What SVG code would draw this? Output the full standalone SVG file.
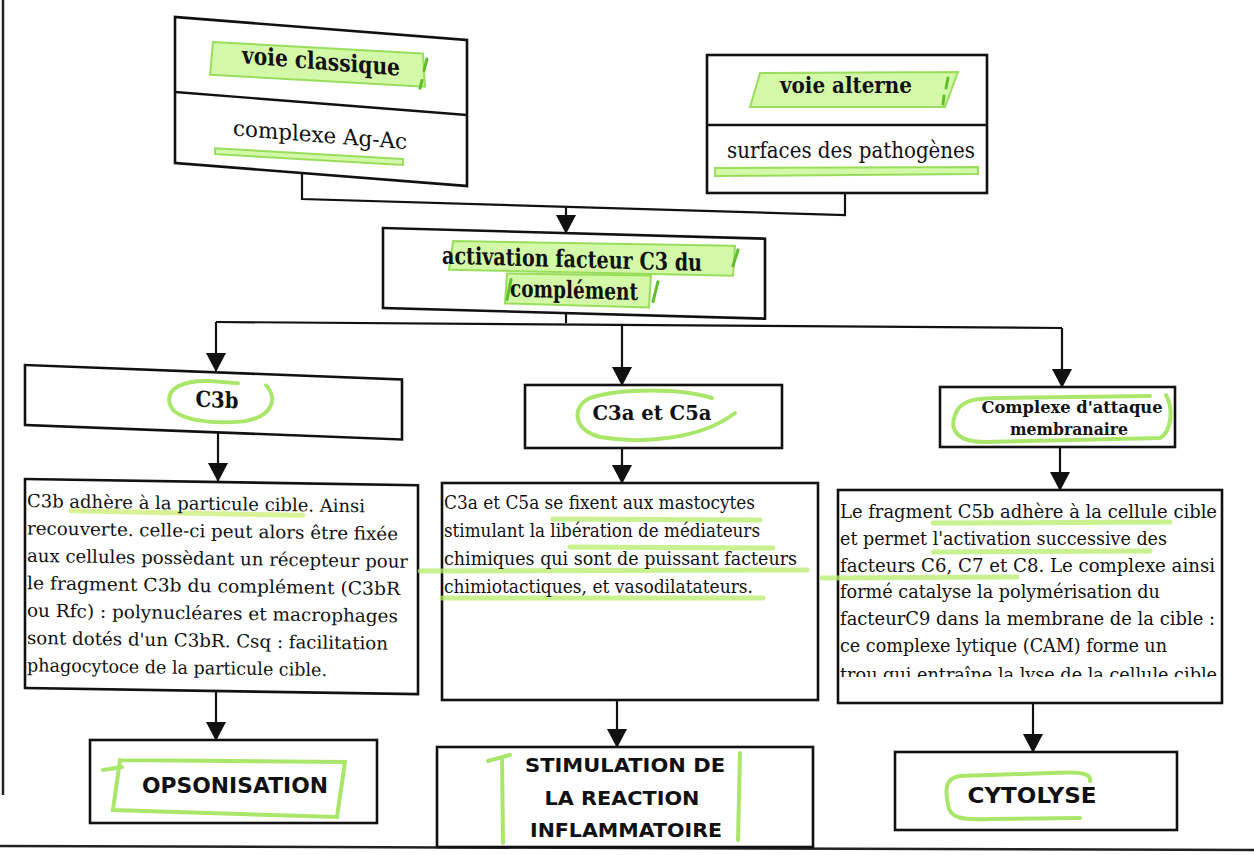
<svg xmlns="http://www.w3.org/2000/svg" width="1254" height="855" viewBox="0 0 1254 855">
  <style>
    .box { fill: #ffffff; stroke: #111111; stroke-width: 2.6; }
    .div { stroke: #111111; stroke-width: 2.4; }
    .line { fill: none; stroke: #111111; stroke-width: 2.2; }
    .arrow { fill: none; stroke: #111111; stroke-width: 2.2; marker-end: url(#head); }
    .hl { fill: #c4f58a; fill-opacity: 0.75; stroke: #86d640; stroke-width: 2; stroke-opacity: 0.8; }
    .tick { fill: none; stroke: #5fbf2a; stroke-width: 3; stroke-linecap: round; }
    .loop { fill: none; stroke: #9be24f; stroke-width: 4; stroke-opacity: 0.85; stroke-linecap: round; }
    .ul { stroke: #cdf07a; stroke-width: 5; stroke-linecap: round; stroke-opacity: 0.8; }
    .ulg { stroke: #b6ec6a; stroke-width: 5; stroke-linecap: round; stroke-opacity: 0.75; }
    .slab { font-family: "DejaVu Serif", "Liberation Serif", serif; font-weight: bold; fill: #111111; text-anchor: middle; }
    .plain { font-family: "DejaVu Serif", "Liberation Serif", serif; fill: #111111; text-anchor: middle; }
    .body { font-family: "DejaVu Serif Condensed", "DejaVu Serif", "Liberation Serif", serif; font-size: 18px; fill: #111111; }
    .caps { font-family: "DejaVu Sans", "Liberation Sans", sans-serif; font-weight: bold; fill: #111111; text-anchor: middle; }
    .page { stroke: #222222; stroke-width: 2.5; }
  </style>
  <defs>
    <marker id="head" markerUnits="userSpaceOnUse" viewBox="0 -11 20 22" refX="19" refY="0" markerWidth="20" markerHeight="22" orient="auto">
      <path d="M0,-10 L19,0 L0,10 Z" fill="#111111"/>
    </marker>
    <clipPath id="clipCam">
      <rect x="838" y="490" width="384" height="187"/>
    </clipPath>
  </defs>

  <rect width="1254" height="855" fill="#ffffff"/>

  <!-- page edges -->
  <line class="page" x1="3" y1="0" x2="3" y2="795"/>
  <line class="page" x1="0" y1="846" x2="1254" y2="850"/>

  <!-- connectors -->
  <g id="connectors">
    <polyline class="line" points="302,173 302,199 845,215 845,193"/>
    <line class="arrow" x1="566" y1="207" x2="566" y2="234"/>
    <line class="line" x1="566" y1="313" x2="566" y2="323"/>
    <line class="line" x1="216" y1="322" x2="1062" y2="328"/>
    <line class="arrow" x1="216" y1="322" x2="216" y2="372"/>
    <line class="arrow" x1="622" y1="325" x2="622" y2="386"/>
    <line class="arrow" x1="1062" y1="328" x2="1062" y2="388"/>
    <line class="arrow" x1="218" y1="432" x2="218" y2="482"/>
    <line class="arrow" x1="622" y1="448" x2="622" y2="484"/>
    <line class="arrow" x1="1060" y1="447" x2="1060" y2="491"/>
    <line class="arrow" x1="216" y1="691" x2="216" y2="741"/>
    <line class="arrow" x1="617" y1="700" x2="617" y2="748"/>
    <line class="arrow" x1="1033" y1="704" x2="1033" y2="753"/>
  </g>

  <!-- classical pathway -->
  <g id="voie-classique" transform="translate(175,17) skewY(4.5)">
    <rect class="box" x="0" y="0" width="292" height="146"/>
    <line class="div" x1="0" y1="75" x2="292" y2="75"/>
    <path class="hl" d="M38,22 L248,17 L250,50 L35,55 Z"/>
    <path class="tick" d="M252,22 L249,34 M247,44 L245,52"/>
    <text class="slab" x="146" y="41" font-size="24" textLength="158" lengthAdjust="spacingAndGlyphs">voie classique</text>
    <text class="plain" x="145" y="114" font-size="22" textLength="174" lengthAdjust="spacingAndGlyphs">complexe Ag-Ac</text>
    <path class="hl" d="M40,128 L228,124 L228,130 L40,134 Z"/>
  </g>

  <!-- alternative pathway -->
  <g id="voie-alterne">
    <rect class="box" x="707" y="55" width="280" height="138"/>
    <line class="div" x1="707" y1="125" x2="987" y2="125"/>
    <path class="hl" d="M760,73 L958,72 L945,107 L750,107 Z"/>
    <path class="tick" d="M948,78 L946,88 M944,96 L943,104"/>
    <text class="slab" x="846" y="93" font-size="22" textLength="132" lengthAdjust="spacingAndGlyphs">voie alterne</text>
    <text class="plain" x="851" y="158" font-size="22" textLength="248" lengthAdjust="spacingAndGlyphs">surfaces des pathogènes</text>
    <path class="hl" d="M715,168 L978,167 L978,174 L715,176 Z"/>
  </g>

  <!-- C3 activation -->
  <g id="activation-c3" transform="translate(383,228) skewY(1.6)">
    <rect class="box" x="0" y="0" width="382" height="80"/>
    <path class="hl" d="M70,11 L352,8 L350,38 L66,40 Z"/>
    <path class="hl" d="M124,42 L268,40 L266,72 L122,72 Z"/>
    <path class="tick" d="M355,12 L350,28 M128,48 L124,68 M275,46 L270,66"/>
    <text class="slab" x="189" y="34" font-size="24" textLength="260" lengthAdjust="spacingAndGlyphs">activation facteur C3 du</text>
    <text class="slab" x="191" y="65" font-size="24" textLength="128" lengthAdjust="spacingAndGlyphs">complément</text>
  </g>

  <!-- C3b -->
  <g id="c3b" transform="translate(25,365) skewY(2.2)">
    <rect class="box" x="0" y="0" width="377" height="60"/>
    <path class="loop" d="M241,11 C252,22 250,42 218,48 C188,52 150,50 145,34 C140,17 160,9 185,9 L213,10"/>
    <text class="slab" x="192" y="35" font-size="22" textLength="43" lengthAdjust="spacingAndGlyphs">C3b</text>
  </g>

  <!-- C3a and C5a -->
  <g id="c3a-c5a">
    <rect class="box" x="525" y="385" width="257" height="63"/>
    <path class="loop" d="M712,398 C680,388 620,388 590,398 C572,406 572,430 600,437 C640,444 700,440 735,413"/>
    <text class="slab" x="652" y="420" font-size="20" textLength="119" lengthAdjust="spacingAndGlyphs">C3a et C5a</text>
  </g>

  <!-- membrane attack complex -->
  <g id="cam">
    <rect class="box" x="940" y="387" width="235" height="60"/>
    <path class="loop" d="M1166,395 C1174,410 1171,432 1160,438 L985,442 C955,442 950,428 955,415 C960,400 975,398 1000,398 L1150,396"/>
    <text class="slab" x="1072" y="413" font-size="17" textLength="181" lengthAdjust="spacingAndGlyphs">Complexe d'attaque</text>
    <text class="slab" x="1069" y="435" font-size="17" textLength="118" lengthAdjust="spacingAndGlyphs">membranaire</text>
  </g>

  <!-- C3b description -->
  <g id="texte-c3b" transform="translate(25,479) skewY(0.9)">
    <rect class="box" x="0" y="0" width="393" height="209"/>
    <line class="ul" x1="46" y1="31" x2="278" y2="32"/>
    <text class="body" x="2" y="28" textLength="338" lengthAdjust="spacingAndGlyphs">C3b adhère à la particule cible. Ainsi</text>
    <text class="body" x="2" y="55.4" textLength="371" lengthAdjust="spacingAndGlyphs">recouverte. celle-ci peut alors être fixée</text>
    <text class="body" x="2" y="82.8" textLength="381" lengthAdjust="spacingAndGlyphs">aux cellules possèdant un récepteur pour</text>
    <text class="body" x="2" y="110.2" textLength="373" lengthAdjust="spacingAndGlyphs">le fragment C3b du complément (C3bR</text>
    <text class="body" x="2" y="137.6" textLength="371" lengthAdjust="spacingAndGlyphs">ou Rfc) : polynucléares et macrophages</text>
    <text class="body" x="2" y="165" textLength="361" lengthAdjust="spacingAndGlyphs">sont dotés d'un C3bR. Csq : facilitation</text>
    <text class="body" x="2" y="192.4" textLength="300" lengthAdjust="spacingAndGlyphs">phagocytoce de la particule cible.</text>
  </g>

  <!-- C3a/C5a description -->
  <g id="texte-c3a">
    <rect class="box" x="442" y="483" width="376" height="217"/>
    <line class="ulg" x1="553" y1="519" x2="760" y2="520"/>
    <line class="ulg" x1="570" y1="547" x2="773" y2="548"/>
    <line class="ulg" x1="420" y1="571" x2="807" y2="570"/>
    <line class="ulg" x1="442" y1="598" x2="763" y2="598"/>
    <text class="body" x="444" y="509" textLength="311" lengthAdjust="spacingAndGlyphs">C3a et C5a se fixent aux mastocytes</text>
    <text class="body" x="444" y="537" textLength="316" lengthAdjust="spacingAndGlyphs">stimulant la libération de médiateurs</text>
    <text class="body" x="444" y="565" textLength="353" lengthAdjust="spacingAndGlyphs">chimiques qui sont de puissant facteurs</text>
    <text class="body" x="444" y="593" textLength="309" lengthAdjust="spacingAndGlyphs">chimiotactiques, et vasodilatateurs.</text>
  </g>

  <!-- complex description -->
  <g id="texte-cam">
    <rect class="box" x="838" y="490" width="384" height="213"/>
    <line class="ulg" x1="933" y1="523" x2="1170" y2="522"/>
    <line class="ulg" x1="933" y1="552" x2="1150" y2="551"/>
    <line class="ulg" x1="822" y1="578" x2="1017" y2="577"/>
    <g clip-path="url(#clipCam)">
      <text class="body" x="840" y="518" textLength="377" lengthAdjust="spacingAndGlyphs">Le fragment C5b adhère à la cellule cible</text>
      <text class="body" x="840" y="545" textLength="327" lengthAdjust="spacingAndGlyphs">et permet l'activation successive des</text>
      <text class="body" x="840" y="572" textLength="375" lengthAdjust="spacingAndGlyphs">facteurs C6, C7 et C8. Le complexe ainsi</text>
      <text class="body" x="840" y="598" textLength="320" lengthAdjust="spacingAndGlyphs">formé catalyse la polymérisation du</text>
      <text class="body" x="840" y="625" textLength="375" lengthAdjust="spacingAndGlyphs">facteurC9 dans la membrane de la cible :</text>
      <text class="body" x="840" y="652" textLength="327" lengthAdjust="spacingAndGlyphs">ce complexe lytique (CAM) forme un</text>
      <text class="body" x="840" y="681" textLength="377" lengthAdjust="spacingAndGlyphs">trou qui entraîne la lyse de la cellule cible</text>
    </g>
  </g>

  <!-- outcomes -->
  <g id="opsonisation">
    <rect class="box" x="90" y="740" width="287" height="83"/>
    <path class="loop" d="M103,770 L122,767 M120,760 L345,762 L337,817 L113,810 L120,760"/>
    <text class="caps" x="235" y="793" font-size="22" textLength="186" lengthAdjust="spacingAndGlyphs">OPSONISATION</text>
  </g>

  <g id="inflammation">
    <rect class="box" x="437" y="747" width="376" height="100"/>
    <path class="loop" d="M488,761 L510,755 M502,757 L503,843 M740,753 L738,840"/>
    <text class="caps" x="625" y="772" font-size="19" textLength="200" lengthAdjust="spacingAndGlyphs">STIMULATION DE</text>
    <text class="caps" x="622" y="805" font-size="19" textLength="155" lengthAdjust="spacingAndGlyphs">LA REACTION</text>
    <text class="caps" x="626" y="837" font-size="19" textLength="192" lengthAdjust="spacingAndGlyphs">INFLAMMATOIRE</text>
  </g>

  <g id="cytolyse">
    <rect class="box" x="895" y="752" width="282" height="78"/>
    <path class="loop" d="M1090,781 C1092,771 1070,772 1050,773 L960,776 C945,778 945,790 948,805 C950,818 960,820 990,819 L1080,818"/>
    <text class="caps" x="1032" y="803" font-size="22" textLength="129" lengthAdjust="spacingAndGlyphs">CYTOLYSE</text>
  </g>
</svg>
